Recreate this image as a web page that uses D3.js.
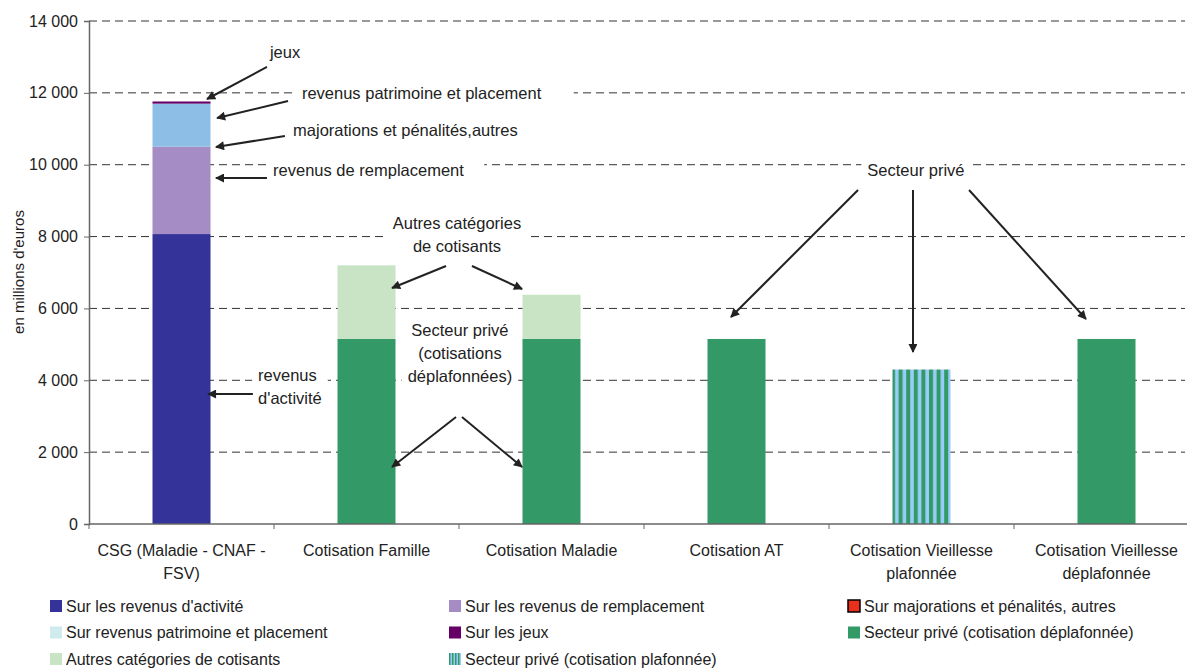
<!DOCTYPE html>
<html>
<head>
<meta charset="utf-8">
<script src="https://cdn.jsdelivr.net/npm/d3@7"></script>
<style>
body { margin: 0; background: #fff; }
text { font-family: "Liberation Sans", Arial, sans-serif; fill: #222; }
</style>
</head>
<body>
<div id="container"></div>
<script>
// categories and wrapped axis labels
var categories = ["CSG", "Famille", "Maladie", "AT", "VieillessePlaf", "VieillesseDeplaf"];
var categoryLines = [
    ["CSG (Maladie - CNAF -", "FSV)"],
    ["Cotisation Famille"],
    ["Cotisation Maladie"],
    ["Cotisation AT"],
    ["Cotisation Vieillesse", "plafonnée"],
    ["Cotisation Vieillesse", "déplafonnée"]
];

// series, in stacking order (also legend order)
var seriesKeys = ["activite", "remplacement", "majorations", "patrimoine", "jeux", "prive", "autres", "privePlaf"];
var seriesNames = [
    "Sur les revenus d'activité",
    "Sur les revenus de remplacement",
    "Sur majorations et pénalités, autres",
    "Sur revenus patrimoine et placement",
    "Sur les jeux",
    "Secteur privé (cotisation déplafonnée)",
    "Autres catégories de cotisants",
    "Secteur privé (cotisation plafonnée)"
];
var activite     = [8070, 0, 0, 0, 0, 0];
var remplacement = [2430, 0, 0, 0, 0, 0];
var majorations  = [0, 0, 0, 0, 0, 0];
var patrimoine   = [1200, 0, 0, 0, 0, 0];
var jeux         = [60, 0, 0, 0, 0, 0];
var prive        = [0, 5150, 5150, 5150, 0, 5150];
var autres       = [0, 2050, 1230, 0, 0, 0];
var privePlaf    = [0, 0, 0, 0, 4300, 0];

var yTicks = [0, 2000, 4000, 6000, 8000, 10000, 12000, 14000];
var yTitle = "en millions d'euros";

// annotation texts (u = position in category slots, v = value in millions)
var notes = [
    { lines: ["jeux"], u: 0.978, v: 13140, anchor: "start" },
    { lines: ["revenus patrimoine et placement"], u: 1.151, v: 11990, anchor: "start", padRight: 26 },
    { lines: ["majorations et pénalités,autres"], u: 1.103, v: 10966, anchor: "start" },
    { lines: ["revenus de remplacement"], u: 0.995, v: 9853, anchor: "start", padRight: 14 },
    { lines: ["revenus", "d'activité"], u: 0.914, v: 4147, anchor: "start" },
    { lines: ["Autres catégories", "de cotisants"], u: 1.989, v: 8378, anchor: "middle" },
    { lines: ["Secteur privé", "(cotisations", "déplafonnées)"], u: 2.005, v: 5400, anchor: "middle" },
    { lines: ["Secteur privé"], u: 4.470, v: 9853, anchor: "middle" }
];
var arrows = [
    [0.962, 12720, 0.638, 11829],
    [1.076, 11773, 0.692, 11300],
    [1.059, 10799, 0.686, 10493],
    [0.962, 9630, 0.686, 9630],
    [0.886, 3618, 0.643, 3618],
    [1.930, 7181, 1.638, 6569],
    [2.070, 7181, 2.341, 6541],
    [1.984, 2978, 1.638, 1586],
    [2.016, 2978, 2.341, 1586],
    [4.157, 9296, 3.470, 5761],
    [4.454, 9296, 4.454, 4787],
    [4.757, 9296, 5.389, 5706]
];

var barColors = ["#333399", "#A68CC4", "#E8301C", "#8DBFE6", "#660066", "#339966", "#C8E4C5", "url(#stripes)"];
var legendColors = ["#333399", "#A68CC4", "#E8301C", "#CFEBEE", "#660066", "#339966", "#C8E4C5", "url(#stripesSmall)"];

var width = 1187, height = 668;
var plotLeft = 89, plotRight = 1199, plotTop = 21, plotBottom = 524;

var svg = d3.select("#container").append("svg")
    .attr("width", width)
    .attr("height", height);

var defs = svg.append("defs");
var pat = defs.append("pattern").attr("id", "stripes")
    .attr("patternUnits", "userSpaceOnUse").attr("width", 7.6).attr("height", 10)
    .attr("x", 891);
pat.append("rect").attr("width", 7.6).attr("height", 10).attr("fill", "#99CCF8");
pat.append("rect").attr("width", 4).attr("height", 10).attr("fill", "#339966");
var pat2 = defs.append("pattern").attr("id", "stripesSmall")
    .attr("patternUnits", "userSpaceOnUse").attr("width", 3).attr("height", 3);
pat2.append("rect").attr("width", 3).attr("height", 3).attr("fill", "#99CCF8");
pat2.append("rect").attr("width", 1.5).attr("height", 3).attr("fill", "#339966");

defs.append("marker").attr("id", "arrow")
    .attr("viewBox", "0 0 10 10").attr("refX", 9).attr("refY", 5)
    .attr("markerUnits", "userSpaceOnUse")
    .attr("markerWidth", 11).attr("markerHeight", 9)
    .attr("orient", "auto")
    .append("path").attr("d", "M0,0 L10,5 L0,10 z").attr("fill", "#222");

var x = d3.scaleBand()
    .domain(categories)
    .range([plotLeft, plotRight])
    .paddingInner(0.6865)
    .paddingOuter(0.34325);

var y = d3.scaleLinear()
    .domain([0, 14000])
    .range([plotBottom, plotTop]);

var px = function (u) { return x.range()[0] + u * x.step(); };

// grid
svg.append("g").selectAll("line")
    .data(yTicks.filter(function (d) { return d > 0; }))
    .join("line")
    .attr("x1", plotLeft).attr("x2", width - 2)
    .attr("y1", function (d) { return y(d); })
    .attr("y2", function (d) { return y(d); })
    .attr("stroke", "#333")
    .attr("stroke-width", 1)
    .attr("stroke-dasharray", "8,5");

// bars
var table = categories.map(function (c, i) {
    return {
        cat: c, activite: activite[i], remplacement: remplacement[i], majorations: majorations[i],
        patrimoine: patrimoine[i], jeux: jeux[i], prive: prive[i], autres: autres[i], privePlaf: privePlaf[i]
    };
});
var stacked = d3.stack().keys(seriesKeys)(table);

svg.append("g").selectAll("g")
    .data(stacked)
    .join("g")
    .attr("fill", function (d, i) { return barColors[i]; })
    .selectAll("rect")
    .data(function (d) { return d.filter(function (s) { return s[1] > s[0]; }); })
    .join("rect")
    .attr("x", function (d) { return x(d.data.cat); })
    .attr("y", function (d) { return y(d[1]); })
    .attr("width", x.bandwidth())
    .attr("height", function (d) { return y(d[0]) - y(d[1]); });

// axes
var fr = d3.formatLocale({ decimal: ",", thousands: " ", grouping: [3], currency: ["", " €"] });
var yAxis = svg.append("g")
    .attr("transform", "translate(" + plotLeft + ",0)")
    .call(d3.axisLeft(y).tickValues(yTicks).tickFormat(fr.format(",d")).tickSize(5).tickPadding(6));
yAxis.select(".domain").attr("stroke", "#666").attr("stroke-width", 1.5);
yAxis.selectAll(".tick line").attr("stroke", "#666");
yAxis.selectAll("text").style("font-size", "16px").style("font-family", "Liberation Sans, Arial, sans-serif").attr("fill", "#222");

svg.append("line")
    .attr("x1", plotLeft).attr("x2", plotRight)
    .attr("y1", plotBottom).attr("y2", plotBottom)
    .attr("stroke", "#666").attr("stroke-width", 1.5);
svg.append("g").selectAll("line")
    .data(d3.range(categories.length + 1))
    .join("line")
    .attr("x1", function (i) { return px(i); })
    .attr("x2", function (i) { return px(i); })
    .attr("y1", plotBottom).attr("y2", plotBottom + 5)
    .attr("stroke", "#666");

svg.append("g").selectAll("text")
    .data(categories)
    .join("text")
    .attr("x", function (c) { return x(c) + x.bandwidth() / 2; })
    .attr("y", plotBottom + 32)
    .attr("text-anchor", "middle")
    .style("font-size", "16px")
    .each(function (c, i) {
        d3.select(this).selectAll("tspan")
            .data(categoryLines[i])
            .join("tspan")
            .attr("x", x(c) + x.bandwidth() / 2)
            .attr("dy", function (t, j) { return j === 0 ? 0 : 23; })
            .text(function (t) { return t; });
    });

svg.append("text")
    .attr("transform", "translate(24," + 272 + ") rotate(-90)")
    .attr("text-anchor", "middle")
    .style("font-size", "15px")
    .text(yTitle);

// annotations
var noteG = svg.append("g").selectAll("g")
    .data(notes)
    .join("g");
noteG.each(function (n) {
    var g = d3.select(this);
    var bg = g.append("rect").attr("fill", "#fff");
    var t = g.append("text")
        .attr("text-anchor", n.anchor)
        .style("font-size", "16.5px");
    n.lines.forEach(function (line, j) {
        t.append("tspan")
            .attr("x", px(n.u))
            .attr("y", y(n.v) + j * 23)
            .attr("dy", "0.35em")
            .text(line);
    });
    var b = t.node().getBBox();
    bg.attr("x", b.x - 6).attr("y", b.y - 1)
        .attr("width", b.width + 12 + (n.padRight || 0))
        .attr("height", b.height + 2);
});

svg.append("g").selectAll("line")
    .data(arrows)
    .join("line")
    .attr("x1", function (a) { return px(a[0]); })
    .attr("y1", function (a) { return y(a[1]); })
    .attr("x2", function (a) { return px(a[2]); })
    .attr("y2", function (a) { return y(a[3]); })
    .attr("stroke", "#222")
    .attr("stroke-width", 2)
    .attr("marker-end", "url(#arrow)");

// legend
var legendCols = [50, 449, 848];
var legend = svg.append("g").selectAll("g")
    .data(seriesNames)
    .join("g")
    .attr("transform", function (d, i) {
        return "translate(" + legendCols[i % 3] + "," + (606 + Math.floor(i / 3) * 26.5) + ")";
    });
legend.append("rect")
    .attr("x", 0).attr("y", -6)
    .attr("width", 12).attr("height", 12)
    .attr("fill", function (d, i) { return legendColors[i]; })
    .attr("stroke", function (d, i) { return seriesKeys[i] === "majorations" ? "#000" : "none"; })
    .attr("stroke-width", 1.5);
legend.append("text")
    .attr("x", 16)
    .attr("dy", "0.35em")
    .style("font-size", "16px")
    .text(function (d) { return d; });
</script>
</body>
</html>
